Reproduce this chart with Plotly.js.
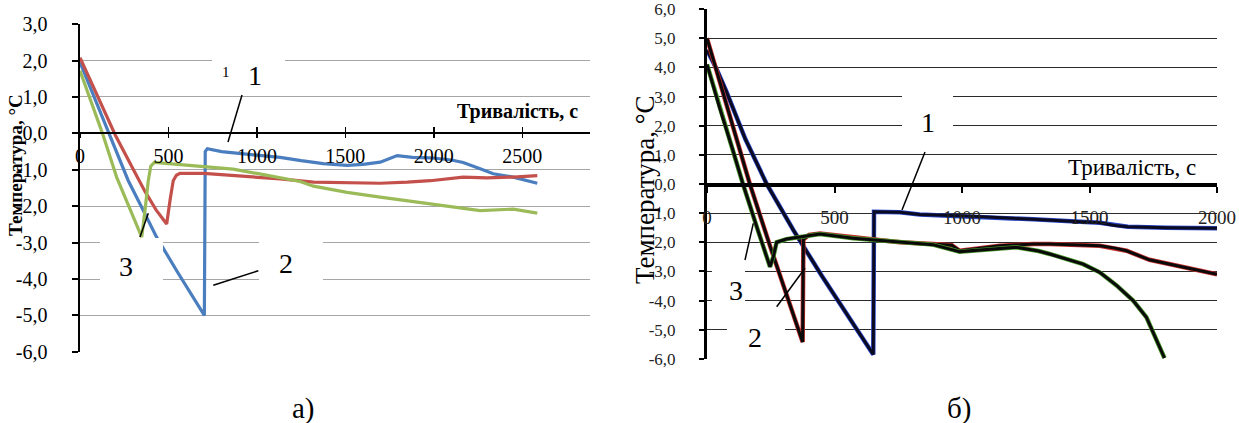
<!DOCTYPE html>
<html>
<head>
<meta charset="utf-8">
<script src="https://cdn.plot.ly/plotly-3.0.1.min.js"></script>
<style>html,body{margin:0;padding:0;background:#fff;}#chart{width:1239px;height:423px;}</style>
</head>
<body>
<div id="chart"></div>
<script>
// ---------- Data: chart а) ----------
const aBlueT  = [0,100,200,273,358,433,550,620,703,708,720,800,900,1000,1131,1250,1375,1510,1600,1697,1793,1880,1980,2100,2166,2262,2336,2449,2585];
const aBlueV  = [1.95,0.75,-0.45,-1.3,-2.12,-2.85,-3.8,-4.35,-5.0,-0.5,-0.42,-0.5,-0.55,-0.6,-0.66,-0.75,-0.83,-0.88,-0.85,-0.79,-0.61,-0.66,-0.67,-0.73,-0.8,-0.97,-1.11,-1.2,-1.37];
const aRedT   = [0,100,200,300,368,430,490,510,527,545,565,700,850,1000,1131,1320,1500,1697,1850,1980,2166,2300,2449,2585];
const aRedV   = [2.08,1.0,-0.05,-0.98,-1.6,-2.1,-2.49,-1.8,-1.3,-1.15,-1.1,-1.1,-1.15,-1.2,-1.25,-1.34,-1.36,-1.37,-1.34,-1.3,-1.2,-1.22,-1.2,-1.16];
const aGreenT = [0,127,207,264,349,370,386,400,420,600,866,1000,1131,1244,1320,1510,1697,1885,2074,2262,2449,2585];
const aGreenV = [1.72,0,-1.2,-1.85,-2.85,-2.0,-1.3,-0.9,-0.8,-0.87,-0.98,-1.1,-1.22,-1.32,-1.45,-1.62,-1.75,-1.87,-1.98,-2.12,-2.08,-2.19];

// ---------- Data: chart б) ----------
const bBlueT  = [0,40,77,150,234,340,450,550,652,655,700,756,834,1017,1279,1540,1600,1650,1802,2000];
const bBlueV  = [4.6,3.9,3.15,1.55,0,-1.6,-3.15,-4.5,-5.85,-0.95,-0.95,-0.97,-1.05,-1.1,-1.21,-1.33,-1.42,-1.47,-1.5,-1.52];
const bRedT   = [0,50,100,168,250,300,375,378,400,443,573,756,886,960,991,1082,1148,1279,1344,1540,1600,1645,1735,1866,2000];
const bRedV   = [5.0,3.5,2.0,0,-2.2,-3.5,-5.42,-1.9,-1.75,-1.7,-1.84,-2.0,-2.06,-2.1,-2.29,-2.2,-2.12,-2.06,-2.06,-2.12,-2.2,-2.29,-2.6,-2.85,-3.1];
const bGreenT = [0,50,100,141,200,247,260,273,312,380,443,573,756,886,991,1082,1213,1300,1344,1475,1540,1606,1671,1723,1794];
const bGreenV = [4.1,2.6,1.2,0,-1.6,-2.84,-2.5,-2.0,-1.89,-1.8,-1.72,-1.86,-2.0,-2.08,-2.32,-2.25,-2.17,-2.3,-2.4,-2.75,-3.03,-3.48,-4.0,-4.57,-5.97];

// ---------- Ticks ----------
const aYTicks = [-6,-5,-4,-3,-2,-1,0,1,2,3];
const aYTickText = ['-6,0','-5,0','-4,0','-3,0','-2,0','-1,0','0,0','1,0','2,0','3,0'];
const aXTicks = [0,500,1000,1500,2000,2500];
const aXTickText = ['0','500','1000','1500','2000','2500'];
const bYTicks = [-6,-5,-4,-3,-2,-1,0,1,2,3,4,5,6];
const bYTickText = ['-6,0','-5,0','-4,0','-3,0','-2,0','-1,0','0,0','1,0','2,0','3,0','4,0','5,0','6,0'];
const bXTicks = [0,500,1000,1500,2000];
const bXTickText = ['0','500','1000','1500','2000'];

const xTitle = 'Тривалість, с';
const yTitle = 'Температура, °С';

// ---------- Geometry helpers ----------
const W = 1239, H = 423;
const px = x => x / W;
const py = y => 1 - y / H;
const FONT = '"Liberation Serif", "Times New Roman", Times, serif';

const aDomX = [px(80), px(590)], aDomY = [py(352), py(24)], aRangeY = [-6, 3];
const bDomX = [px(707), px(1217)], bDomY = [py(359), py(9)], bRangeY = [-6, 6];
const pad = 0.004;
const zeroPos = (dom, r) => dom[0] + (0 - r[0]) / (r[1] - r[0]) * (dom[1] - dom[0]);

const traces = [
  {x: aBlueT, y: aBlueV, xaxis: 'x', yaxis: 'y', mode: 'lines', line: {color: '#4a7ebf', width: 3.2}, hoverinfo: 'skip'},
  {x: aRedT, y: aRedV, xaxis: 'x', yaxis: 'y', mode: 'lines', line: {color: '#c4504c', width: 3.2}, hoverinfo: 'skip'},
  {x: aGreenT, y: aGreenV, xaxis: 'x', yaxis: 'y', mode: 'lines', line: {color: '#9bbb59', width: 3.2}, hoverinfo: 'skip'},
  {x: [], y: [], xaxis: 'x3', yaxis: 'y', mode: 'lines', hoverinfo: 'skip'},
  {x: bBlueT, y: bBlueV, xaxis: 'x2', yaxis: 'y2', mode: 'lines', line: {color: '#2a46c8', width: 4.5}, hoverinfo: 'skip'},
  {x: bBlueT, y: bBlueV, xaxis: 'x2', yaxis: 'y2', mode: 'lines', line: {color: '#0a0a20', width: 3}, hoverinfo: 'skip'},
  {x: bRedT, y: bRedV, xaxis: 'x2', yaxis: 'y2', mode: 'lines', line: {color: '#c83030', width: 4.5}, hoverinfo: 'skip'},
  {x: bRedT, y: bRedV, xaxis: 'x2', yaxis: 'y2', mode: 'lines', line: {color: '#0a0a0a', width: 3}, hoverinfo: 'skip'},
  {x: bGreenT, y: bGreenV, xaxis: 'x2', yaxis: 'y2', mode: 'lines', line: {color: '#4a9a2a', width: 4.5}, hoverinfo: 'skip'},
  {x: bGreenT, y: bGreenV, xaxis: 'x2', yaxis: 'y2', mode: 'lines', line: {color: '#0a0a0a', width: 3}, hoverinfo: 'skip'}
];

const whiteBox = (x0, y0, x1, y1) => ({type: 'rect', xref: 'paper', yref: 'paper', x0: px(x0), x1: px(x1), y0: py(y1), y1: py(y0), fillcolor: '#ffffff', line: {width: 0}, layer: 'above'});
const seg = (x0, y0, x1, y1) => ({type: 'line', xref: 'paper', yref: 'paper', x0: px(x0), y0: py(y0), x1: px(x1), y1: py(y1), line: {color: '#000', width: 1.5}, layer: 'above'});
const txt = (s, x, y, size, extra) => Object.assign({text: s, xref: 'paper', yref: 'paper', x: px(x), y: py(y), xanchor: 'center', yanchor: 'middle', showarrow: false, font: {family: FONT, size: size, color: '#000'}}, extra || {});

const layout = {
  width: W, height: H,
  margin: {l: 0, r: 0, t: 0, b: 0},
  paper_bgcolor: '#fff', plot_bgcolor: 'rgba(0,0,0,0)',
  showlegend: false,
  font: {family: FONT},
  xaxis: {domain: aDomX, range: [0, 2883], anchor: 'free', position: zeroPos(aDomY, aRangeY),
    showline: true, linecolor: '#000', linewidth: 2, ticks: 'outside', ticklen: 4, tickwidth: 1.5, tickcolor: '#000',
    tickvals: aXTicks, ticktext: aXTickText, tickfont: {family: FONT, size: 20, color: '#000'},
    ticklabelstandoff: 1, showgrid: false, zeroline: false},
  xaxis3: {domain: aDomX, range: [0, 2883], anchor: 'free', overlaying: 'x', position: zeroPos(aDomY, aRangeY),
    showline: false, ticks: 'inside', ticklen: 6, tickwidth: 1.5, tickcolor: '#000', tickvals: aXTicks,
    showticklabels: false, showgrid: false, zeroline: false},
  yaxis: {domain: aDomY, range: [aRangeY[0] - pad, aRangeY[1] + pad], anchor: 'x',
    showline: true, linecolor: '#000', linewidth: 2.5, ticks: 'outside', ticklen: 6, tickwidth: 2, tickcolor: '#000',
    tickvals: aYTicks, ticktext: aYTickText, tickfont: {family: FONT, size: 20, color: '#000'},
    ticklabelstandoff: 20, ticklabeloverflow: 'allow', showgrid: true, gridcolor: '#a6a6a6', gridwidth: 1, zeroline: false},
  xaxis2: {domain: bDomX, range: [0, 2000], anchor: 'free', position: zeroPos(bDomY, bRangeY),
    showline: true, linecolor: '#000', linewidth: 3.5, ticks: 'outside', ticklen: 6, tickwidth: 2, tickcolor: '#000',
    tickvals: bXTicks, ticktext: bXTickText, tickfont: {family: FONT, size: 19, color: '#222'},
    ticklabelstandoff: 9, showgrid: false, zeroline: false},
  yaxis2: {domain: bDomY, range: [bRangeY[0] - pad, bRangeY[1] + pad], anchor: 'x2',
    showline: true, linecolor: '#000', linewidth: 3, ticks: 'outside', ticklen: 5, tickwidth: 2, tickcolor: '#000',
    tickvals: bYTicks, ticktext: bYTickText, tickfont: {family: FONT, size: 17, color: '#222'},
    ticklabelstandoff: 20, ticklabeloverflow: 'allow', showgrid: true, gridcolor: '#2a2a2a', gridwidth: 1, zeroline: false},
  shapes: [
    whiteBox(212, 50, 285, 90),
    whiteBox(100, 238, 163, 292),
    whiteBox(259, 238, 323, 292),
    whiteBox(902, 82, 953, 140),
    whiteBox(712, 255, 745, 306),
    whiteBox(727, 312, 785, 352),
    seg(242, 95, 228, 142),
    seg(140, 237, 148.3, 213.3),
    seg(213.3, 285.3, 258.3, 270.7),
    seg(925, 152, 902, 210),
    seg(745, 260, 753.3, 223.3),
    seg(776.7, 306.7, 805, 268.3)
  ],
  annotations: [
    txt('<b>' + xTitle + '</b>', 517, 112, 20),
    txt('<b>' + yTitle + '</b>', 15, 165, 19, {textangle: -90}),
    txt(xTitle, 1132, 167, 23),
    txt(yTitle, 645, 190, 27, {textangle: -90}),
    txt('1', 255, 75, 28),
    txt('1', 226, 72, 15),
    txt('3', 126, 266, 28),
    txt('2', 286, 263, 28),
    txt('1', 928, 123, 28),
    txt('3', 736, 290, 28),
    txt('2', 755, 337, 28),
    txt('а)', 303, 408, 29),
    txt('б)', 959, 408, 29)
  ]
};

Plotly.newPlot('chart', traces, layout, {staticPlot: true, displayModeBar: false});
</script>
</body>
</html>
